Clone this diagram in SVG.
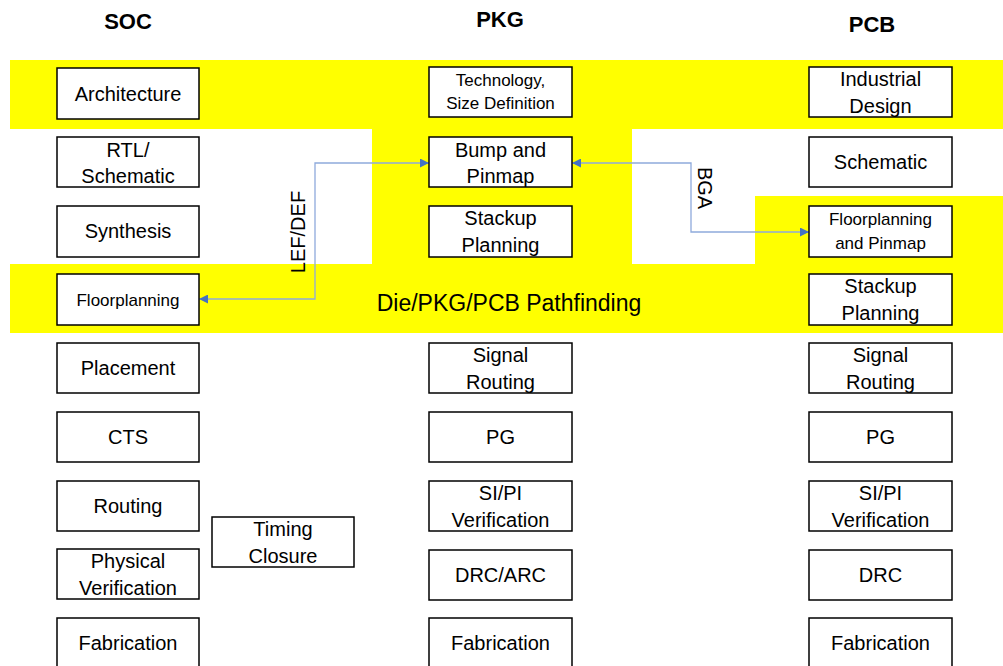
<svg xmlns="http://www.w3.org/2000/svg" width="1003" height="666" viewBox="0 0 1003 666">
<defs>
<style>
.box{fill:#fff;stroke:#000;stroke-width:1.5}
.t{font-family:"Liberation Sans",Arial,sans-serif;font-size:20px;fill:#000;text-anchor:middle}
.s{font-size:17px}
.h{font-family:"Liberation Sans",Arial,sans-serif;font-size:22px;font-weight:bold;fill:#000;text-anchor:middle}
.conn{fill:none;stroke:#8faadc;stroke-width:1.3}
</style>
<marker id="arr" viewBox="0 0 10 10" refX="10" refY="5" markerWidth="9" markerHeight="9" markerUnits="userSpaceOnUse" orient="auto-start-reverse">
<path d="M0,0 L10,5 L0,10 Z" fill="#4472c4"/>
</marker>
</defs>
<rect width="1003" height="666" fill="#fff"/>
<path id="pathfinding-band" d="M10,60 H1003 V129 H632 V264 H755 V196 H1003 V333 H10 V264 H372 V129 H10 Z" fill="#ffff00"/>
<text class="h" x="128" y="29">SOC</text>
<text class="h" x="500" y="27">PKG</text>
<text class="h" x="872" y="32">PCB</text>
<text class="t" x="509" y="311" style="font-size:23px">Die/PKG/PCB Pathfinding</text>

<g id="connectors">
<path class="conn" d="M429,163 H315 V299 H199" marker-start="url(#arr)" marker-end="url(#arr)"/>
<path class="conn" d="M572,163 H691 V232 H809" marker-start="url(#arr)" marker-end="url(#arr)"/>
<text class="t" transform="translate(305,232) rotate(-90)">LEF/DEF</text>
<text class="t" transform="translate(698,188) rotate(90)">BGA</text>
</g>

<g id="soc-architecture"><rect class="box" x="57" y="68" width="142" height="51"/><text class="t" x="128" y="101">Architecture</text></g>
<g id="soc-rtl"><rect class="box" x="57" y="137" width="142" height="50"/><text class="t" x="128" y="157">RTL/</text><text class="t" x="128" y="183">Schematic</text></g>
<g id="soc-synthesis"><rect class="box" x="57" y="206" width="142" height="51"/><text class="t" x="128" y="238">Synthesis</text></g>
<g id="soc-floorplanning"><rect class="box" x="57" y="274" width="142" height="51"/><text class="t s" x="128" y="306">Floorplanning</text></g>
<g id="soc-placement"><rect class="box" x="57" y="343" width="142" height="50"/><text class="t" x="128" y="375">Placement</text></g>
<g id="soc-cts"><rect class="box" x="57" y="412" width="142" height="50"/><text class="t" x="128" y="444">CTS</text></g>
<g id="soc-routing"><rect class="box" x="57" y="481" width="142" height="50"/><text class="t" x="128" y="513">Routing</text></g>
<g id="soc-physical"><rect class="box" x="57" y="549" width="142" height="50"/><text class="t" x="128" y="568">Physical</text><text class="t" x="128" y="595">Verification</text></g>
<g id="soc-fabrication"><rect class="box" x="57" y="618" width="142" height="51"/><text class="t" x="128" y="650">Fabrication</text></g>
<g id="soc-timing"><rect class="box" x="212" y="517" width="142" height="50"/><text class="t" x="283" y="536">Timing</text><text class="t" x="283" y="563">Closure</text></g>

<g id="pkg-technology"><rect class="box" x="429" y="67" width="143" height="50"/><text class="t s" x="500.5" y="86">Technology,</text><text class="t s" x="500.5" y="109">Size Definition</text></g>
<g id="pkg-bump"><rect class="box" x="429" y="137" width="143" height="50"/><text class="t" x="500.5" y="157">Bump and</text><text class="t" x="500.5" y="183">Pinmap</text></g>
<g id="pkg-stackup"><rect class="box" x="429" y="206" width="143" height="51"/><text class="t" x="500.5" y="225">Stackup</text><text class="t" x="500.5" y="252">Planning</text></g>
<g id="pkg-signal"><rect class="box" x="429" y="343" width="143" height="50"/><text class="t" x="500.5" y="362">Signal</text><text class="t" x="500.5" y="389">Routing</text></g>
<g id="pkg-pg"><rect class="box" x="429" y="412" width="143" height="50"/><text class="t" x="500.5" y="444">PG</text></g>
<g id="pkg-sipi"><rect class="box" x="429" y="481" width="143" height="50"/><text class="t" x="500.5" y="500">SI/PI</text><text class="t" x="500.5" y="527">Verification</text></g>
<g id="pkg-drc"><rect class="box" x="429" y="550" width="143" height="50"/><text class="t" x="500.5" y="582">DRC/ARC</text></g>
<g id="pkg-fabrication"><rect class="box" x="429" y="618" width="143" height="51"/><text class="t" x="500.5" y="650">Fabrication</text></g>

<g id="pcb-industrial"><rect class="box" x="809" y="67" width="143" height="50"/><text class="t" x="880.5" y="86">Industrial</text><text class="t" x="880.5" y="113">Design</text></g>
<g id="pcb-schematic"><rect class="box" x="809" y="137" width="143" height="50"/><text class="t" x="880.5" y="169">Schematic</text></g>
<g id="pcb-floorplanning"><rect class="box" x="809" y="206" width="143" height="51"/><text class="t s" x="880.5" y="225">Floorplanning</text><text class="t s" x="880.5" y="249">and Pinmap</text></g>
<g id="pcb-stackup"><rect class="box" x="809" y="274" width="143" height="51"/><text class="t" x="880.5" y="293">Stackup</text><text class="t" x="880.5" y="320">Planning</text></g>
<g id="pcb-signal"><rect class="box" x="809" y="343" width="143" height="50"/><text class="t" x="880.5" y="362">Signal</text><text class="t" x="880.5" y="389">Routing</text></g>
<g id="pcb-pg"><rect class="box" x="809" y="412" width="143" height="50"/><text class="t" x="880.5" y="444">PG</text></g>
<g id="pcb-sipi"><rect class="box" x="809" y="481" width="143" height="50"/><text class="t" x="880.5" y="500">SI/PI</text><text class="t" x="880.5" y="527">Verification</text></g>
<g id="pcb-drc"><rect class="box" x="809" y="550" width="143" height="50"/><text class="t" x="880.5" y="582">DRC</text></g>
<g id="pcb-fabrication"><rect class="box" x="809" y="618" width="143" height="51"/><text class="t" x="880.5" y="650">Fabrication</text></g>
</svg>
